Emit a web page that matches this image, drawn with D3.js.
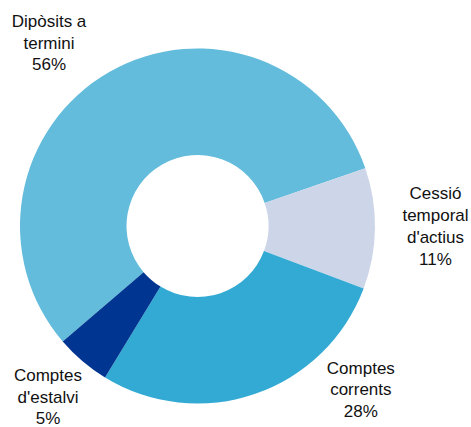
<!DOCTYPE html>
<html>
<head>
<meta charset="utf-8">
<script src="https://cdn.jsdelivr.net/npm/d3@7/dist/d3.min.js"></script>
<style>
  html, body { margin: 0; padding: 0; background: #fff; }
  svg { display: block; }
  text { font-family: "Liberation Sans", Arial, sans-serif; font-size: 17px; fill: #111; }
</style>
</head>
<body>
<svg id="chart" width="471" height="427"></svg>
<script>
// Composition of deposits (percent)
const categories = ["Dipòsits a termini", "Cessió temporal d'actius", "Comptes corrents", "Comptes d'estalvi"];
const values = [56, 11, 28, 5];
const labelLines = [
  ["Dipòsits a", "termini"],
  ["Cessió", "temporal", "d'actius"],
  ["Comptes", "corrents"],
  ["Comptes", "d'estalvi"]
];
const colors = ["#63BCDB", "#CDD6E9", "#33AAD3", "#003591"];

// Layout
const W = 471, H = 427;
const cx = 197.5, cy = 226;
const outerR = 177.5, innerR = 71;
const startDeg = 229.4;
// label block centres, polar around the chart centre: [angle in degrees clockwise from 12 o'clock, distance]
const labelPolar = [[321, 236], [90, 238], [135, 231], [221.2, 227]];
const lineH = 21.7;

const svg = d3.select("#chart");
const g = svg.append("g").attr("transform", `translate(${cx},${cy})`);

const pie = d3.pie()
  .sort(null)
  .value(d => d)
  .startAngle(startDeg * Math.PI / 180)
  .endAngle(startDeg * Math.PI / 180 + 2 * Math.PI);

const arc = d3.arc().innerRadius(innerR).outerRadius(outerR);

const arcs = pie(values);

g.selectAll("path.slice")
  .data(arcs)
  .join("path")
  .attr("class", "slice")
  .attr("d", arc)
  .attr("fill", (d, i) => colors[i]);

const fmt = d3.format(".0f");

arcs.forEach((d, i) => {
  const [deg, r] = labelPolar[i];
  const a = deg * Math.PI / 180;
  const x = r * Math.sin(a);
  const y = -r * Math.cos(a);
  const lines = labelLines[i].concat([fmt(d.data) + "%"]);
  const n = lines.length;
  const t = g.append("text")
    .attr("text-anchor", "middle")
    .attr("x", x)
    .attr("y", y - (n - 1) * lineH / 2 + 6);
  lines.forEach((ln, k) => {
    t.append("tspan")
      .attr("x", x)
      .attr("dy", k === 0 ? 0 : lineH)
      .text(ln);
  });
});
</script>
</body>
</html>
